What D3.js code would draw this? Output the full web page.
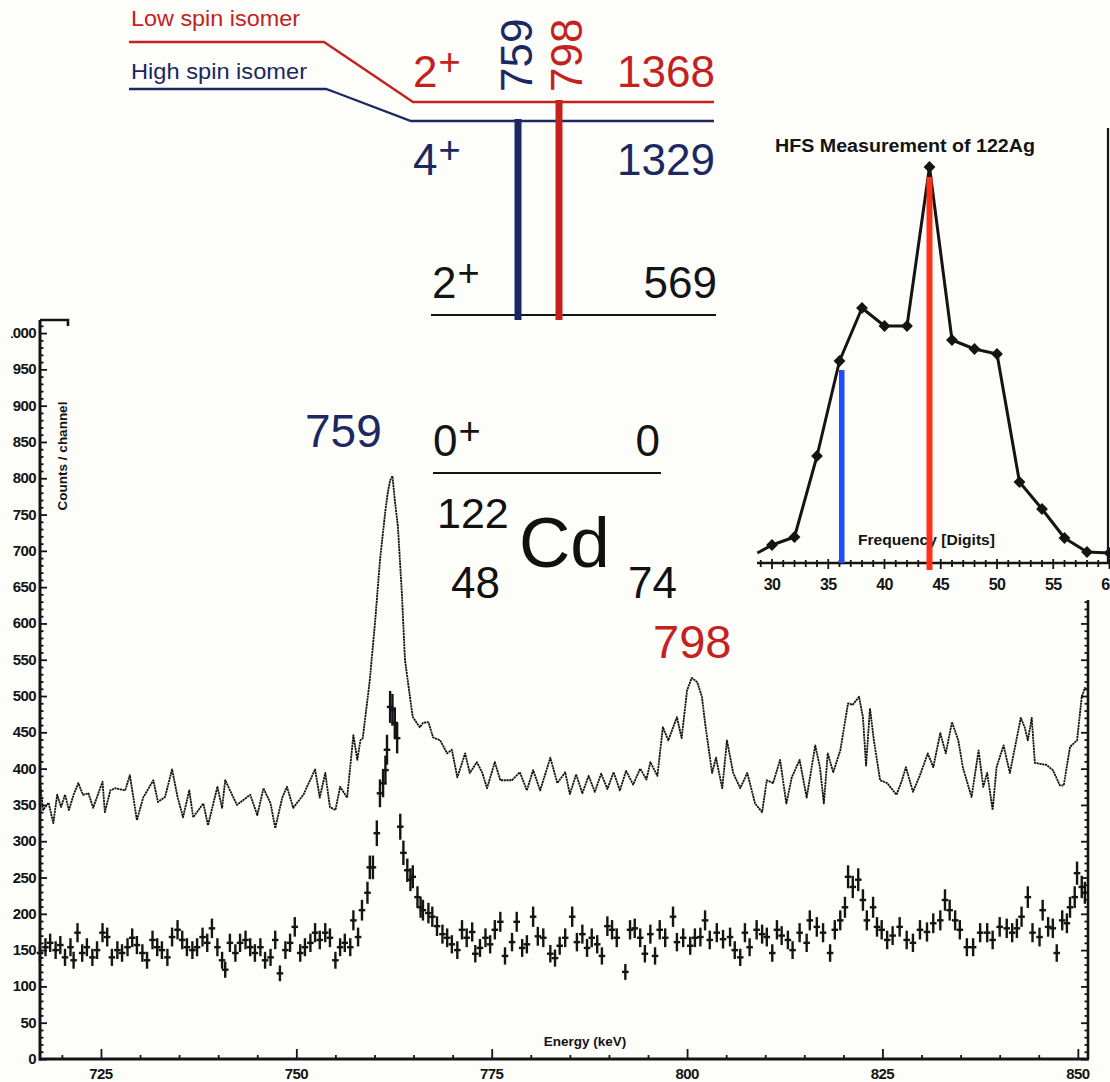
<!DOCTYPE html>
<html><head><meta charset="utf-8">
<script src="https://cdn.jsdelivr.net/npm/d3@7"></script>
<style>
html,body{margin:0;padding:0;background:#fdfdfa;}
svg{display:block;}
text{font-family:"Liberation Sans",Arial,Helvetica,sans-serif;}
</style></head><body>
<svg id="c" width="1110" height="1082"></svg>
<script>
// ---------------- DATA ----------------
// upper spectrum (all events): energy keV, counts/channel
const upperE = [717.2,717.6,718.3,718.9,719.4,719.9,720.4,720.9,721.5,722.1,722.7,723.4,724.0,725.2,725.5,726.2,726.8,728.1,728.7,729.6,730.4,731.7,732.3,733.2,734.1,734.8,735.5,736.3,736.8,738.1,738.7,739.9,740.5,740.9,742.4,744.1,745.0,745.8,746.7,747.3,748.2,748.8,749.6,750.9,752.4,753.0,753.7,754.3,755.0,755.6,756.5,757.3,757.8,758.2,758.5,759.2,759.4,760.1,760.7,761.4,761.7,762.0,762.3,762.6,763.0,763.5,763.9,764.6,764.9,765.8,766.2,766.9,767.5,768.4,769.3,769.9,770.6,771.6,772.2,773.1,773.8,774.4,775.4,776.1,777.6,778.6,779.5,780.3,781.2,782.5,783.4,784.4,785.0,785.8,786.6,787.4,788.2,789.0,789.8,790.6,791.4,792.2,793.1,794.0,794.8,795.3,796.2,796.9,797.6,798.7,799.3,800.0,800.6,801.3,801.9,802.3,803.2,803.7,804.5,805.1,805.9,806.8,807.7,808.7,809.6,810.2,811.0,811.9,812.7,813.4,814.4,815.3,816.4,817.0,817.5,818.0,818.7,819.6,820.6,821.2,822.0,822.5,822.9,823.4,823.9,824.7,825.6,826.8,827.5,828.0,828.9,829.8,830.8,831.5,832.4,833.1,833.9,834.7,835.3,836.4,837.3,837.9,838.4,839.1,839.6,840.5,841.3,842.7,843.2,843.6,844.1,844.5,846.0,846.8,847.7,848.2,849.0,849.9,850.5,850.9,851.3];
const upperC = [380,343,353,325,364,347,364,343,364,380,364,366,346,382,340,370,373,370,391,329,360,384,354,361,399,361,333,370,333,352,322,375,346,384,350,364,336,373,352,318,360,375,346,364,399,360,394,347,343,375,360,446,412,439,442,504,522,605,687,756,780,797,803,770,733,642,550,494,471,457,463,464,443,439,421,426,388,421,394,409,394,373,409,384,384,395,370,398,370,415,380,395,365,392,366,390,368,393,372,395,370,397,378,400,385,409,390,457,439,471,442,508,525,519,499,463,394,415,373,439,394,373,394,352,340,384,380,412,352,388,412,360,432,402,352,421,395,425,490,488,499,471,404,483,439,384,380,364,384,402,368,391,421,402,449,421,464,439,401,361,425,375,394,343,402,432,394,470,457,439,470,408,405,398,377,377,430,439,499,511,508];

// lower spectrum (gated): energy keV, counts/channel
const lowerE = [717.2,717.9,718.5,719.2,719.8,720.4,721.1,721.5,722.0,722.6,723.2,723.9,724.5,725.2,725.8,726.4,727.1,727.7,728.4,729.0,729.6,730.3,730.9,731.6,732.2,732.8,733.5,734.1,734.8,735.4,736.0,736.7,737.3,738.0,738.6,739.2,739.9,740.5,740.9,741.5,742.2,742.8,743.5,744.1,744.7,745.4,746.0,746.7,747.3,747.9,748.6,749.2,749.8,750.5,751.1,751.8,752.4,753.0,753.7,754.3,755.0,755.6,756.2,756.9,757.3,757.9,758.4,759.1,759.4,759.8,760.3,760.7,761.1,761.4,761.6,762.0,762.3,762.6,762.9,763.3,763.7,764.2,764.6,764.9,765.5,765.9,766.2,766.9,767.4,768.0,768.7,769.3,769.9,770.6,771.2,771.8,772.5,772.9,773.5,774.2,774.8,775.4,776.1,776.7,777.6,778.2,778.9,779.5,780.3,780.9,781.6,782.5,783.1,783.7,784.4,785.3,785.9,786.6,787.2,787.8,788.5,789.1,789.8,790.4,791.0,792.1,792.7,793.3,794.0,794.6,795.3,795.9,796.5,797.2,798.2,798.7,799.5,800.4,801.0,801.7,802.3,802.9,803.8,804.6,805.5,806.1,806.8,807.4,808.0,808.9,809.6,810.2,810.9,811.5,812.1,812.9,813.5,814.4,815.3,815.7,816.6,817.4,818.3,818.9,819.6,820.2,820.6,821.2,821.9,822.5,823.0,823.8,824.3,824.9,825.6,826.3,827.2,828.1,828.9,829.8,830.7,831.5,832.4,833.0,833.6,834.3,834.9,835.8,836.6,837.5,838.4,839.1,840.0,840.9,841.6,842.2,842.8,843.6,844.2,845.1,845.5,846.2,846.8,847.3,848.0,848.6,849.0,849.6,849.9,850.5,850.9];
const lowerC = [146,154,160,150,157,140,154,136,174,146,154,140,150,174,168,140,150,146,154,167,157,146,136,164,154,150,140,168,178,164,154,150,154,168,160,180,154,136,123,160,146,160,164,154,146,154,136,140,164,118,150,160,182,146,154,160,174,164,174,167,136,154,160,154,191,168,205,229,264,264,311,366,380,398,426,485,481,463,442,320,284,260,247,251,223,209,205,201,196,183,172,167,158,150,178,167,175,145,153,167,158,178,189,142,161,189,153,158,196,169,167,145,139,156,167,196,161,172,153,167,158,142,183,178,167,120,178,180,167,145,172,142,178,167,196,161,167,156,167,168,191,164,174,165,168,150,140,174,154,178,172,168,146,178,170,164,150,174,160,191,182,174,146,178,191,209,251,237,247,219,191,209,182,178,164,170,182,164,160,178,175,187,191,219,205,191,178,154,154,174,174,164,182,180,174,180,196,223,174,168,205,182,180,146,191,187,209,223,256,237,229];

const yTicks = [0,50,100,150,200,250,300,350,400,450,500,550,600,650,700,750,800,850,900,950,1000];
const xTicks = [725,750,775,800,825,850];

// HFS inset
const hfsFreq = [28.7,30,32,34,36,38,40,42,44,46,48,50,52,54,56,58,60];
const hfsRate = [10,18,26,107,202,255,237,237,396,223,214,209,81,54,25,11,10];
const hfsTicks = [30,35,40,45,50,55,60];
const hfsHigh = {freq:36.2, rate:193};   // blue marker (high spin)
const hfsLow  = {freq:44.0, rate:386};   // red marker (low spin)

// Level scheme of 122Cd
const levelE    = [0,569,1329,1368];
const levelSpin = ["0","2","4","2"];
const gammaE    = [759,798];

// ---------------- DRAW ----------------
const W=1110,H=1082;
const svg=d3.select("#c");
svg.append("rect").attr("width",W).attr("height",H).attr("fill","#fdfdfa");
const RED="#c3221f", NAVY="#1b2862", INK="#141414";

const x=d3.scaleLinear().domain([717.2,851.3]).range([40,1088]);
const y=d3.scaleLinear().domain([0,1018]).range([1059,320]);

// axes
const ax=svg.append("g").attr("stroke",INK).attr("fill","none");
ax.append("line").attr("x1",40).attr("x2",40).attr("y1",y(0)+1.5).attr("y2",320).attr("stroke-width",3);
ax.append("line").attr("x1",39).attr("x2",1089).attr("y1",y(0)).attr("y2",y(0)).attr("stroke-width",2.8);
ax.append("line").attr("x1",1088).attr("x2",1088).attr("y1",y(0)).attr("y2",600).attr("stroke-width",2.6);
ax.append("polyline").attr("points","40,320 68,320 68,326").attr("stroke-width",2.6);

const yMinor=d3.range(0,1011,10).filter(v=>v%50!==0);
function addAxis(gen,tx,ty,len){
  const g=svg.append("g").attr("transform",`translate(${tx},${ty})`).call(gen.tickSize(len).tickFormat(""));
  g.select(".domain").remove();
  g.selectAll(".tick line").attr("stroke",INK).attr("stroke-width",1.8);
  g.selectAll(".tick text").remove();
  return g;
}
addAxis(d3.axisRight(y).tickValues(yTicks),40,0,7);
addAxis(d3.axisRight(y).tickValues(yMinor),40,0,3.5);
addAxis(d3.axisLeft(y).tickValues(yTicks.filter(v=>y(v)>=600)),1088,0,7);
addAxis(d3.axisLeft(y).tickValues(yMinor.filter(v=>y(v)>=600)),1088,0,3.5);
addAxis(d3.axisTop(x).tickValues(xTicks),0,y(0),10);
addAxis(d3.axisTop(x).tickValues(d3.range(720,851,5).filter(v=>v%25!==0)),0,y(0),4);

svg.append("clipPath").attr("id","lclip").append("rect").attr("x",11).attr("y",0).attr("width",60).attr("height",H);
svg.append("g").attr("clip-path","url(#lclip)").selectAll("text").data(yTicks).join("text")
  .attr("x",36).attr("y",d=>y(d)+5).attr("text-anchor","end")
  .attr("font-size",15).attr("font-weight","bold").attr("letter-spacing",-0.6).attr("fill",INK).text(d=>d);
svg.append("g").selectAll("text").data(xTicks).join("text")
  .attr("x",d=>x(d)).attr("y",1079).attr("text-anchor","middle")
  .attr("font-size",15).attr("font-weight","bold").attr("letter-spacing",-0.6).attr("fill",INK).text(d=>d);
svg.append("text").attr("x",585).attr("y",1046).attr("text-anchor","middle").attr("font-size",13.5)
  .attr("font-weight","bold").attr("fill",INK).text("Energy (keV)");
svg.append("text").attr("transform","translate(67,456) rotate(-90)").attr("text-anchor","middle")
  .attr("font-size",13.5).attr("font-weight","bold").attr("fill",INK).text("Counts / channel");

// upper spectrum
const upper=upperE.map((e,i)=>[e,upperC[i]]);
svg.append("path").datum(upper).attr("fill","none").attr("stroke","#111").attr("stroke-width",1.8)
  .attr("stroke-dasharray","2.2,0.6").attr("stroke-linejoin","round")
  .attr("d",d3.line().x(d=>x(d[0])).y(d=>y(d[1])));

// lower spectrum (crosses with error bars)
const lower=lowerE.map((e,i)=>[e,lowerC[i]]);
const lg=svg.append("g").attr("stroke",INK).attr("stroke-width",2.4);
lg.selectAll("line.h").data(lower).join("line").attr("class","h")
  .attr("x1",d=>x(d[0]-0.42)).attr("x2",d=>x(d[0]+0.42)).attr("y1",d=>y(d[1])).attr("y2",d=>y(d[1]));
lg.selectAll("line.v").data(lower).join("line").attr("class","v")
  .attr("x1",d=>x(d[0])).attr("x2",d=>x(d[0])).attr("y1",d=>y(d[1]-Math.sqrt(d[1]))).attr("y2",d=>y(d[1]+Math.sqrt(d[1])));

// peak labels
svg.append("text").attr("x",305).attr("y",447).attr("font-size",46).attr("fill",NAVY).text(gammaE[0]);
svg.append("text").attr("x",653).attr("y",658).attr("font-size",47).attr("fill",RED).text(gammaE[1]);

// ---------------- level scheme ----------------
const ly=d3.scaleLinear().domain(levelE).range([473,315,121,102]);
const ls=svg.append("g").attr("fill","none");
ls.append("polyline").attr("points",`129,42 324,42 413,${ly(1368)} 714,${ly(1368)}`).attr("stroke",RED).attr("stroke-width",2.3);
ls.append("polyline").attr("points",`129,89 326,89 337,93 411,${ly(1329)} 714,${ly(1329)}`).attr("stroke",NAVY).attr("stroke-width",2.3);
ls.append("line").attr("x1",431).attr("x2",716).attr("y1",ly(569)).attr("y2",ly(569)).attr("stroke",INK).attr("stroke-width",2);
ls.append("line").attr("x1",433).attr("x2",661).attr("y1",ly(0)).attr("y2",ly(0)).attr("stroke",INK).attr("stroke-width",2);
ls.append("line").attr("x1",518).attr("x2",518).attr("y1",ly(1329)-2).attr("y2",ly(569)+5).attr("stroke",NAVY).attr("stroke-width",7);
ls.append("line").attr("x1",559).attr("x2",559).attr("y1",ly(1368)-2).attr("y2",ly(569)+5).attr("stroke",RED).attr("stroke-width",7);

function spin(xp,yp,s,col){
  const t=svg.append("text").attr("x",xp).attr("y",yp).attr("font-size",44).attr("fill",col);
  t.append("tspan").text(s);
  t.append("tspan").attr("font-size",38).attr("dy",-12).attr("dx",1).text("+");
}
function energy(xp,yp,s,col){
  svg.append("text").attr("x",xp).attr("y",yp).attr("text-anchor","end").attr("font-size",44).attr("fill",col).text(s);
}
spin(413,87,levelSpin[3],RED);   energy(715,87,levelE[3],RED);
spin(413,175,levelSpin[2],NAVY); energy(715,175,levelE[2],NAVY);
spin(432,298,levelSpin[1],INK);  energy(717,298,levelE[1],INK);
spin(433,456,levelSpin[0],INK);  energy(660,456,levelE[0],INK);
svg.append("text").attr("transform","translate(532,92) rotate(-90)").attr("font-size",44).attr("fill",NAVY).text(gammaE[0]);
svg.append("text").attr("transform","translate(582,92) rotate(-90)").attr("font-size",44).attr("fill",RED).text(gammaE[1]);
svg.append("text").attr("x",131).attr("y",26).attr("font-size",22).attr("fill",RED)
  .attr("textLength",169).attr("lengthAdjust","spacingAndGlyphs").text("Low spin isomer");
svg.append("text").attr("x",131).attr("y",79).attr("font-size",22).attr("fill",NAVY)
  .attr("textLength",176).attr("lengthAdjust","spacingAndGlyphs").text("High spin isomer");
// nuclide
svg.append("text").attr("x",437).attr("y",528).attr("font-size",43).attr("fill","#111").text("122");
svg.append("text").attr("x",519).attr("y",567).attr("font-size",71).attr("fill","#111").text("Cd");
svg.append("text").attr("x",451).attr("y",598).attr("font-size",44).attr("fill","#111").text("48");
svg.append("text").attr("x",628).attr("y",598).attr("font-size",44).attr("fill","#111").text("74");

// ---------------- HFS inset ----------------
const xi=d3.scaleLinear().domain([30,60]).range([772,1109.5]);
const yi=d3.scaleLinear().domain([0,450]).range([563,113]);
const ig=svg.append("g");
ig.append("line").attr("x1",757).attr("x2",1110).attr("y1",563).attr("y2",563).attr("stroke",INK).attr("stroke-width",2.4);
ig.append("line").attr("x1",1108).attr("x2",1108).attr("y1",128).attr("y2",563).attr("stroke",INK).attr("stroke-width",2.2);
ig.selectAll("line.mt").data(d3.range(29,61)).join("line").attr("class","mt")
  .attr("x1",d=>xi(d)).attr("x2",d=>xi(d)).attr("y1",d=>d%5===0?559:560).attr("y2",d=>d%5===0?569:567)
  .attr("stroke",INK).attr("stroke-width",1.8);
ig.selectAll("text.tl").data(hfsTicks).join("text").attr("class","tl")
  .attr("x",d=>xi(d)).attr("y",590).attr("text-anchor","middle").attr("font-size",16).attr("font-weight","bold")
  .attr("letter-spacing",-0.6).attr("fill",INK).text(d=>d);
ig.append("text").attr("x",775).attr("y",152).attr("font-size",18).attr("font-weight","bold")
  .attr("textLength",260).attr("lengthAdjust","spacingAndGlyphs").attr("fill",INK).text("HFS Measurement of 122Ag");
ig.append("text").attr("x",858).attr("y",545).attr("font-size",15).attr("font-weight","bold")
  .attr("textLength",137).attr("lengthAdjust","spacingAndGlyphs").attr("fill",INK).text("Frequency [Digits]");
const hfs=hfsFreq.map((f,i)=>[f,hfsRate[i]]);
ig.append("path").datum(hfs).attr("fill","none").attr("stroke",INK).attr("stroke-width",3).attr("stroke-linejoin","round")
  .attr("d",d3.line().x(d=>xi(d[0])).y(d=>yi(d[1])));
ig.selectAll("path.dm").data(hfs.slice(1)).join("path").attr("class","dm")
  .attr("transform",d=>`translate(${xi(d[0])},${yi(d[1])}) rotate(45)`)
  .attr("d",d3.symbol().type(d3.symbolSquare).size(70)).attr("fill",INK);
ig.append("line").attr("x1",xi(hfsHigh.freq)).attr("x2",xi(hfsHigh.freq)).attr("y1",yi(hfsHigh.rate)).attr("y2",563)
  .attr("stroke","#1f4cff").attr("stroke-width",5.5);
ig.append("line").attr("x1",xi(hfsLow.freq)).attr("x2",xi(hfsLow.freq)).attr("y1",yi(hfsLow.rate)).attr("y2",570)
  .attr("stroke","#ff3019").attr("stroke-width",6);
</script></body></html>
